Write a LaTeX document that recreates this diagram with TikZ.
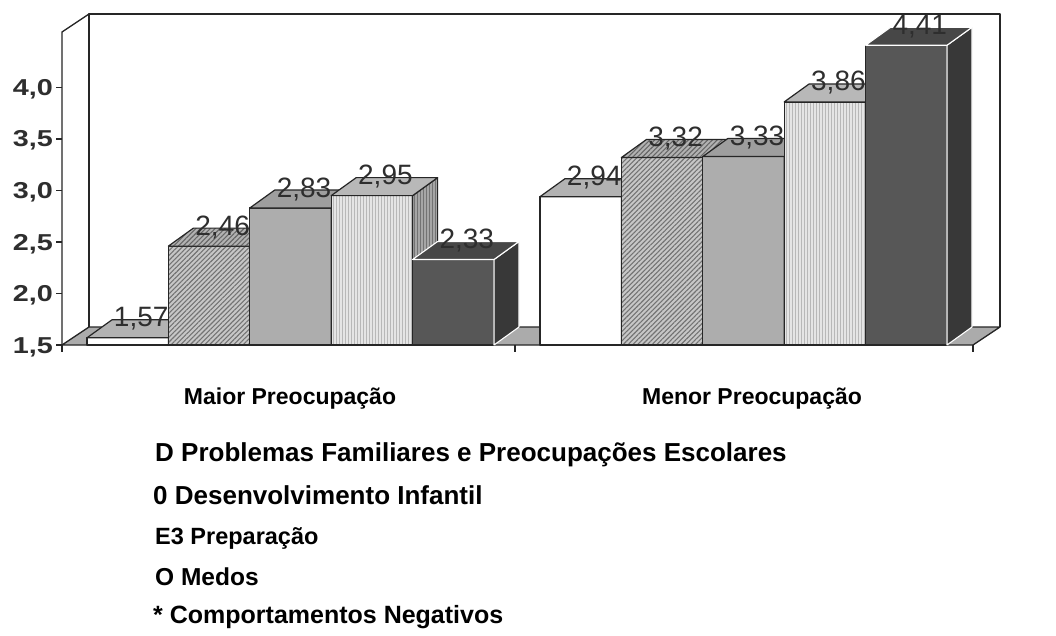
\documentclass[tikz,border=0pt]{standalone}
\usepackage{fontspec}
\setmainfont{Liberation Sans}
\usetikzlibrary{patterns,patterns.meta}
\definecolor{inkc}{HTML}{262626}
\definecolor{floorc}{HTML}{ABABAB}
\tikzset{
  wall/.style={draw=inkc, line width=1.3pt, line join=round},
  edge/.style={draw=inkc, line width=1.2pt, line join=round},
  aFront/.style={edge, fill=white},
  aTop/.style={edge, fill=black!30},
  aSide/.style={edge, fill=black!40},
  bFront/.style={edge, preaction={fill=black!22}, pattern={Lines[angle=45,distance=3.4pt,line width=1.1pt]}, pattern color=black!55},
  bTop/.style={edge, preaction={fill=black!30}, pattern={Lines[angle=45,distance=3.4pt,line width=1.1pt]}, pattern color=black!60},
  bSide/.style={edge, preaction={fill=black!35}, pattern={Lines[angle=45,distance=3.4pt,line width=1.1pt]}, pattern color=black!65},
  cFront/.style={edge, fill=black!32},
  cTop/.style={edge, fill=black!38},
  cSide/.style={edge, fill=black!48},
  dFront/.style={edge, preaction={fill=black!10}, pattern={Lines[angle=90,distance=3pt,line width=0.7pt]}, pattern color=black!28},
  dTop/.style={edge, fill=black!28},
  dSide/.style={edge, preaction={fill=black!35}, pattern={Lines[angle=90,distance=3pt,line width=0.7pt]}, pattern color=black!55},
  eFront/.style={edge, fill=black!66},
  eTop/.style={draw=white, line width=1.1pt, line join=round, fill=black!72},
  eSide/.style={draw=white, line width=1.1pt, line join=round, fill=black!78},
  vlab/.style={font=\fontsize{28}{28}\selectfont, text=black!82, anchor=base, inner sep=0pt},
  tlab/.style={font=\bfseries\fontsize{23}{23}\selectfont, text=black!82, anchor=base east, inner sep=0pt},
  clab/.style={font=\bfseries\fontsize{23}{23}\selectfont, text=black, anchor=base, inner sep=0pt},
  leg/.style={font=\bfseries\fontsize{25}{25}\selectfont, text=black, anchor=base west, inner sep=0pt},
}
\newcommand\mkbar[5]{%
  \pgfmathsetmacro\yt{345-(#2-1.5)*103}%
  \path[#3] (#1,345) rectangle ({#1+\W},\yt);
  \path[#5] ({#1+\W},\yt) -- ({#1+\W+\DX},{\yt+\DY}) -- ({#1+\W+\DX},{345+\DY}) -- ({#1+\W},345) -- cycle;
  \path[#4] (#1,\yt) -- ({#1+\DX},{\yt+\DY}) -- ({#1+\W+\DX},{\yt+\DY}) -- ({#1+\W},\yt) -- cycle;
}
\newcommand\mkval[4]{%
  \pgfmathsetmacro\yt{345-(#2-1.5)*103}%
  \node[vlab] (#4) at ({#1+\W/2+\DX/2+1},{\yt+\DY/2-2}) {#3};
}
\begin{document}
\begin{tikzpicture}[x=1pt,y=-1pt]
\useasboundingbox (0,0) rectangle (1056,636);
\fill[white] (0,0) rectangle (1056,636);
\def\W{81.4}\def\DX{25}\def\DY{-18}
% walls and floor
\draw[wall] (89,327) -- (89,14) -- (1000,14) -- (1000,327);
\draw[wall] (62,345) -- (62,32) -- (89,14);
\path[wall, fill=floorc] (62,345) -- (973,345) -- (1000,327) -- (89,327) -- cycle;
% axis ticks
\foreach \yy in {87.5,139,190.5,242,293.5,345} \draw[wall] (56,\yy) -- (62,\yy);
\foreach \xx in {62,515,973} \draw[wall] (\xx,345) -- (\xx,352);
\node[tlab] (t40) at (53,95.5) {\scalebox{1.25}[1]{4,0}};
\node[tlab] (t35) at (53,147) {\scalebox{1.25}[1]{3,5}};
\node[tlab] (t30) at (53,198.5) {\scalebox{1.25}[1]{3,0}};
\node[tlab] (t25) at (53,250) {\scalebox{1.25}[1]{2,5}};
\node[tlab] (t20) at (53,301.5) {\scalebox{1.25}[1]{2,0}};
\node[tlab] (t15) at (53,353) {\scalebox{1.25}[1]{1,5}};
% group 1
\mkbar{87}{1.57}{aFront}{aTop}{aSide}
\mkbar{168.4}{2.46}{bFront}{bTop}{bSide}
\mkbar{249.8}{2.83}{cFront}{cTop}{cSide}
\mkbar{331.2}{2.95}{dFront}{dTop}{dSide}
\mkbar{412.6}{2.33}{eFront}{eTop}{eSide}
% group 2
\mkbar{540}{2.94}{aFront}{aTop}{aSide}
\mkbar{621.4}{3.32}{bFront}{bTop}{bSide}
\mkbar{702.8}{3.33}{cFront}{cTop}{cSide}
\mkbar{784.2}{3.86}{dFront}{dTop}{dSide}
\mkbar{865.6}{4.41}{eFront}{eTop}{eSide}
% value labels
\mkval{87}{1.57}{1,57}{v11}
\mkval{168.4}{2.46}{2,46}{v12}
\mkval{249.8}{2.83}{2,83}{v13}
\mkval{331.2}{2.95}{2,95}{v14}
\mkval{412.6}{2.33}{2,33}{v15}
\mkval{540}{2.94}{2,94}{v21}
\mkval{621.4}{3.32}{3,32}{v22}
\mkval{702.8}{3.33}{3,33}{v23}
\mkval{784.2}{3.86}{3,86}{v24}
\mkval{865.6}{4.41}{4,41}{v25}
% category labels
\node[clab] (c1) at (290,404) {Maior Preocupação};
\node[clab] (c2) at (752,404) {Menor Preocupação};
% legend
\node[leg, font=\bfseries\fontsize{26}{26}\selectfont] (l1) at (155,461) {D Problemas Familiares e Preocupações Escolares};
\node[leg, font=\bfseries\fontsize{26}{26}\selectfont] (l2) at (153,504) {0 Desenvolvimento Infantil};
\node[leg, font=\bfseries\fontsize{23.5}{23.5}\selectfont] (l3) at (155,544) {E3 Preparação};
\node[leg, font=\bfseries\fontsize{24.5}{24.5}\selectfont] (l4) at (155,585) {O Medos};
\node[leg] (l5) at (153,623) {* Comportamentos Negativos};
\end{tikzpicture}
\end{document}
